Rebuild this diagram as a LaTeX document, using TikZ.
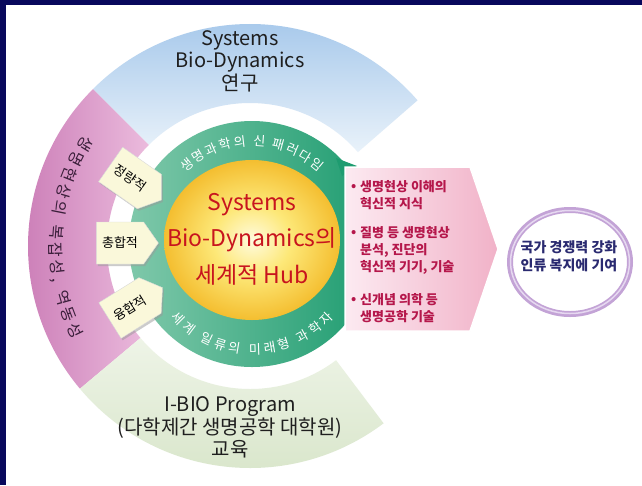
\documentclass[tikz,border=0pt]{standalone}
\usepackage{fontspec}
\newfontfamily\kr{Noto Sans CJK KR}
\usetikzlibrary{calc,shapes.symbols,shapes.geometric,shadows,decorations.text}
\definecolor{navy}{HTML}{08085C}
\definecolor{arcblue}{HTML}{A3C6EA}
\definecolor{arcbluelight}{HTML}{E9F2FA}
\definecolor{arcpink}{HTML}{C877B3}
\definecolor{arcpinklight}{HTML}{EBBBDD}
\definecolor{palegreenA}{HTML}{EEF4E7}
\definecolor{palegreenB}{HTML}{D6E4C7}
\definecolor{ringdark}{HTML}{1E9C70}
\definecolor{ringlight}{HTML}{7FC8AA}
\definecolor{yelA}{HTML}{FFFBDF}
\definecolor{yelB}{HTML}{FDE878}
\definecolor{yelC}{HTML}{F4BE30}
\definecolor{hubred}{HTML}{C8141E}
\definecolor{pinktext}{HTML}{B5174B}
\definecolor{pinkA}{HTML}{FCEAF1}
\definecolor{pinkB}{HTML}{F1B2C8}
\definecolor{goaltext}{HTML}{2A2A70}
\definecolor{lav}{HTML}{C3A3D6}
\definecolor{lavlight}{HTML}{E6D8F0}
\definecolor{tagfill}{HTML}{FAF8DA}
\definecolor{arctext}{HTML}{3A1E3A}
\pgfdeclareradialshading{yellowball}{\pgfpoint{0bp}{0bp}}{color(0bp)=(yelA); color(11bp)=(yelB); color(25bp)=(yelC); color(50bp)=(yelC)}
\tikzset{
  tagbox/.style={signal, signal to=east, signal pointer angle=110, fill=tagfill,
    draw=black!15, line width=0.4pt, minimum height=42pt, minimum width=62pt,
    inner sep=2pt, font=\kr\fontsize{13}{13}\selectfont,
    drop shadow={shadow xshift=1.5pt, shadow yshift=-2pt, fill=black!40}},
  bigtxt/.style={font=\kr\fontsize{20}{20}\selectfont, text=black!88, inner sep=0pt},
  hubtxt/.style={font=\kr\fontsize{23}{23}\selectfont, text=hubred, inner sep=0pt},
  pinktxt/.style={font=\kr\bfseries\fontsize{13}{13}\selectfont, text=pinktext, inner sep=0pt, anchor=west},
}
\begin{document}
\begin{tikzpicture}[x=1pt,y=1pt]
\useasboundingbox (0,0) rectangle (642,-485);
\fill[navy] (0,0) rectangle (642,-485);
\fill[white] (6,-5) rectangle (642,-485);
\coordinate (O) at (250,-246);
\coordinate (G) at (252,-244);
% outer arcs
\shade[top color=arcblue, bottom color=arcbluelight]
  ($(O)+(135:222)$) arc[start angle=135,end angle=41,radius=222]
  -- ($(O)+(41:143)$) arc[start angle=41,end angle=135,radius=143] -- cycle;
\shade[left color=arcpink, right color=arcpinklight]
  ($(O)+(135:222)$) arc[start angle=135,end angle=220,radius=222]
  -- ($(O)+(220:143)$) arc[start angle=220,end angle=135,radius=143] -- cycle;
\shade[top color=palegreenA, bottom color=palegreenB]
  ($(O)+(220:222)$) arc[start angle=220,end angle=307,radius=222]
  -- ($(O)+(307:143)$) arc[start angle=307,end angle=220,radius=143] -- cycle;
% arc texts
\node[bigtxt] (sys1) at (240,-40) {Systems};
\node[bigtxt] (sys2) at (240,-62) {Bio-Dynamics};
\node[bigtxt] (sys3) at (240,-83) {연구};
\node[bigtxt] (ib1) at (230,-407) {I-BIO Program};
\node[bigtxt] (ib2) at (230,-428) {(다학제간 생명공학 대학원)};
\node[bigtxt] (ib3) at (230,-449) {교육};
\path[decorate, decoration={text along path, text align=fit to path,
  text={|\kr\fontsize{16}{16}\selectfont\color{arctext}|생명현상의 복잡성, 역동성}}]
  ($(O)+(146:200)$) arc[start angle=146,end angle=208,radius=200];
% green ring
\shade[left color=ringlight, right color=ringdark] (G) circle[radius=123];
\fill[ringdark] (336,-158) -- (357,-166) -- (342,-176) -- cycle;
% yellow core
\shade[shading=yellowball] (252,-240) ellipse[x radius=88, y radius=80];
\path[decorate, decoration={text along path, text align=fit to path,
  text={|\kr\fontsize{13}{13}\selectfont\color{white}|생명과학의 신 패러다임}}]
  ($(G)+(133:98)$) arc[start angle=133,end angle=47,radius=98];
\path[decorate, decoration={text along path, text align=fit to path,
  text={|\kr\fontsize{13}{13}\selectfont\color{white}|세계 일류의 미래형 과학자}}]
  ($(G)+(222:110)$) arc[start angle=222,end angle=318,radius=110];
\node[hubtxt] (hub1) at (252,-205) {Systems};
\node[hubtxt] (hub2) at (252,-240) {Bio-Dynamics의};
\node[hubtxt] (hub3) at (252,-275) {세계적 Hub};
% tags
\node[tagbox, rotate=-35] (t1) at (130,-178) {정량적};
\node[tagbox] (t2) at (120,-243) {총합적};
\node[tagbox, rotate=32] (t3) at (130,-308) {융합적};
% pink arrow
\shadedraw[left color=pinkA, right color=pinkB, draw=white, line width=1.5pt]
  (345,-167) -- (470,-167) -- (498,-249) -- (470,-331) -- (345,-331) -- cycle;
\node[pinktxt] (b1) at (351,-187) {•};
\node[pinktxt] (p1a) at (360,-187) {생명현상 이해의};
\node[pinktxt] (p1b) at (360,-204) {혁신적 지식};
\node[pinktxt] (b2) at (351,-233) {•};
\node[pinktxt] (p2a) at (360,-233) {질병 등 생명현상};
\node[pinktxt] (p2b) at (360,-250) {분석, 진단의};
\node[pinktxt] (p2c) at (360,-267) {혁신적 기기, 기술};
\node[pinktxt] (b3) at (351,-300) {•};
\node[pinktxt] (p3a) at (360,-300) {신개념 의학 등};
\node[pinktxt] (p3b) at (360,-317) {생명공학 기술};
% goal ellipse
\node[ellipse, draw=lav, line width=6pt, fill=white, minimum width=120pt, minimum height=104pt] (goal) at (570,-262) {};
\draw[lavlight, line width=1.5pt] (goal.center) ellipse[x radius=59.5, y radius=51.5];
\node[font=\kr\bfseries\fontsize{14}{18}\selectfont, text=goaltext, align=center] (goaltxt) at (569,-256) {국가 경쟁력 강화\\인류 복지에 기여};
\end{tikzpicture}
\end{document}
